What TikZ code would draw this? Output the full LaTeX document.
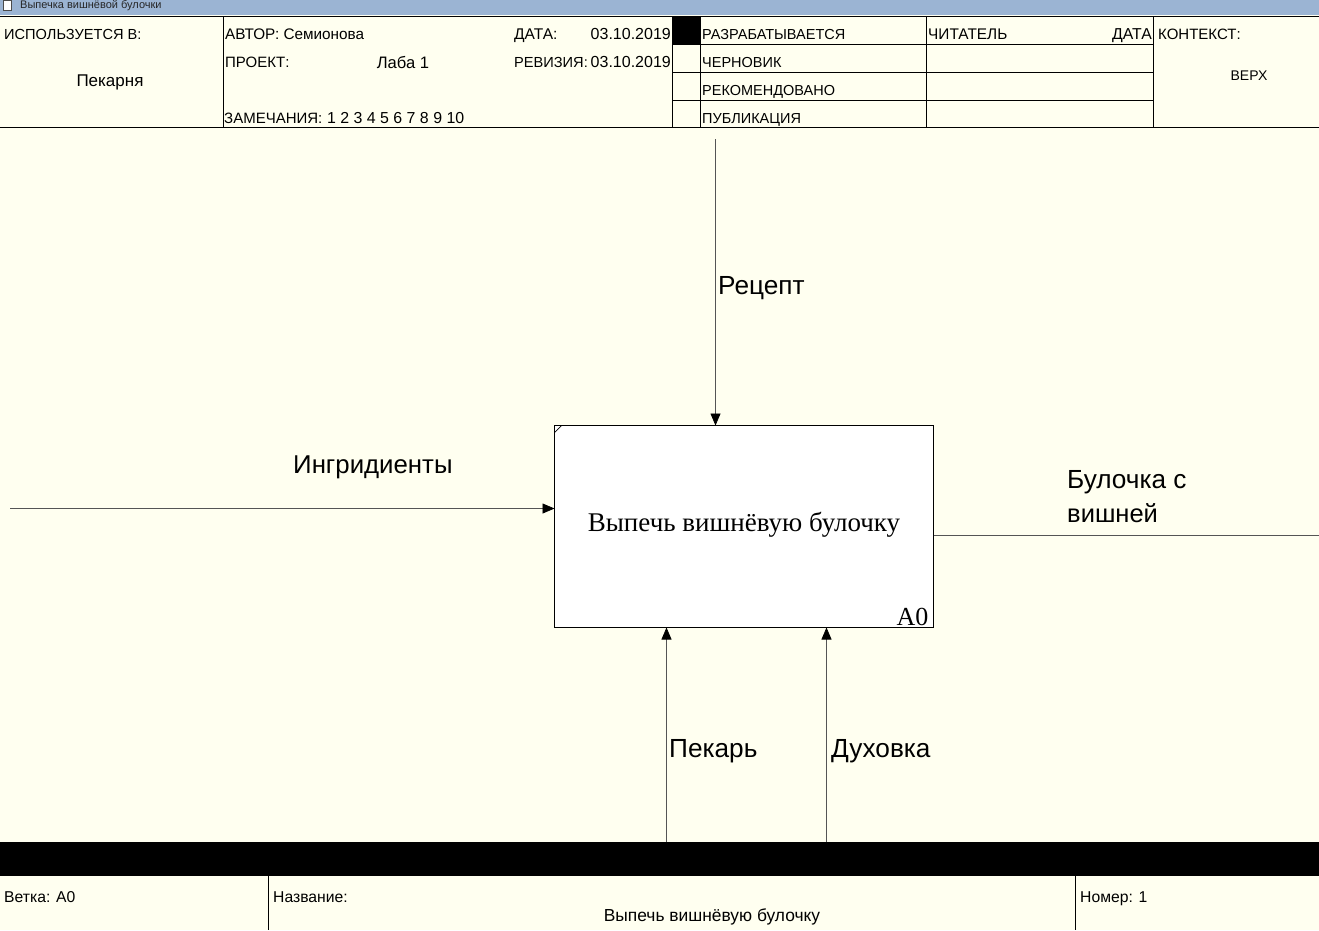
\documentclass[tikz,border=0pt]{standalone}
\usepackage{fontspec}
\setmainfont{Liberation Sans}
\newfontfamily\serifface{Liberation Serif}
\usetikzlibrary{arrows.meta}
\definecolor{paper}{HTML}{FFFFF0}
\definecolor{titlebar}{HTML}{9BB4D3}
\definecolor{wire}{HTML}{555555}
\newcommand{\fs}[1]{\fontsize{#1}{#1}\selectfont}
\tikzset{
  x=1pt,y=-1pt,
  rule/.style={draw=black,line width=0.9pt},
  head/.style={inner sep=0pt,anchor=base west,font=\fs{15}},
  status/.style={head,font=\fs{14.5}},
  foot/.style={head,font=\fs{15.7}},
  value/.style={inner sep=0pt,anchor=base,font=\fs{17}},
  flow/.style={inner sep=0pt,anchor=base west,font=\fs{26.2}},
  wireline/.style={draw=wire,line width=0.7pt},
  arrowline/.style={wireline,-{Triangle[length=12pt,width=10pt,color=black]}},
}
\begin{document}
\begin{tikzpicture}
\useasboundingbox (0,0) rectangle (1319,930);
\fill[paper] (0,0) rectangle (1319,930);
% title bar
\fill[titlebar] (0,0) rectangle (1319,15);
\draw[draw=black!70,fill=white,line width=0.5pt] (3.5,0) rectangle (11.5,10);
\node[inner sep=0pt,anchor=base west,font=\fs{11},text=black!85] (win) at (20,8) {Выпечка вишнёвой булочки};
% header frame
\draw[rule] (0,16) -- (1319,16);
\draw[rule] (0,127.5) -- (1319,127.5);
\foreach \xx in {223.5,672.5,700.5,926.5,1153.5} \draw[rule] (\xx,16) -- (\xx,127.5);
\foreach \yy in {44.5,72.5,100.5} {\draw[rule] (672.5,\yy) -- (1153.5,\yy);}
\fill[black] (672.5,16) rectangle (700.5,44.5);
% header text
\node[head,font=\fs{14.6}] (used) at (4,39.6) {ИСПОЛЬЗУЕТСЯ В:};
\node[value] (bakery) at (110,86.8) {Пекарня};
\node[head,font=\fs{15.3}] (author) at (225,39.6) {АВТОР: Семионова};
\node[head] (project) at (225,67.6) {ПРОЕКТ:};
\node[value,font=\fs{16.6}] (lab) at (403,68.8) {Лаба 1};
\node[head] (notes) at (224,123.6) {ЗАМЕЧАНИЯ:};
\node[head,font=\fs{15.9}] (notesnum) at (327,123.6) {1 2 3 4 5 6 7 8 9 10};
\node[head,font=\fs{15.5}] (date) at (514,39.6) {ДАТА:};
\node[head,anchor=base east,font=\fs{16}] (dateval) at (671,39.6) {03.10.2019};
\node[head,font=\fs{14.6}] (rev) at (514,67.6) {РЕВИЗИЯ:};
\node[head,anchor=base east,font=\fs{16}] (revval) at (671,67.6) {03.10.2019};
\node[status] (s1) at (702,39.6) {РАЗРАБАТЫВАЕТСЯ};
\node[status] (s2) at (702,67.6) {ЧЕРНОВИК};
\node[status] (s3) at (702,95.6) {РЕКОМЕНДОВАНО};
\node[status] (s4) at (702,123.6) {ПУБЛИКАЦИЯ};
\node[head,font=\fs{15.4}] (reader) at (928,39.6) {ЧИТАТЕЛЬ};
\node[head,anchor=base east,font=\fs{15.8}] (rdate) at (1152,39.6) {ДАТА};
\node[head] (context) at (1158,39.6) {КОНТЕКСТ:};
\node[head,anchor=base,font=\fs{14}] (top) at (1249,80.8) {ВЕРХ};
% activity box
\node[draw=black,fill=white,line width=0.9pt,outer sep=0pt,minimum width=379pt,minimum height=202pt,inner sep=0pt,anchor=north west] (box) at (554.5,425.5) {};
\draw[black,line width=0.7pt] (554.5,432.5) -- (561.5,425.5);
\node[inner sep=0pt,anchor=base,font=\serifface\fs{27}] (boxtext) at (744,531) {Выпечь вишнёвую булочку};
\node[inner sep=0pt,anchor=base east,font=\serifface\fs{26}] (a0) at (928.5,625.5) {A0};
% connectors
\coordinate (cIn) at (10,508.5);
\coordinate (cTop) at (715.5,139);
\coordinate (cOut) at (1319,535.5);
\coordinate (cM1) at (666.5,842);
\coordinate (cM2) at (826.5,842);
\draw[arrowline] (cIn) -- (cIn -| box.west);
\draw[arrowline] (cTop) -- (cTop |- box.north);
\draw[arrowline] (cM1) -- (cM1 |- box.south);
\draw[arrowline] (cM2) -- (cM2 |- box.south);
\draw[wireline] (cOut -| box.east) -- (cOut);
% labels
\node[flow] (l1) at (718,294) {Рецепт};
\node[flow,font=\fs{25.8}] (l2) at (293,473.6) {Ингридиенты};
\node[flow] (l3) at (1067,488) {Булочка с};
\node[flow,font=\fs{25.5}] (l4) at (1067,522) {вишней};
\node[flow] (l5) at (669,757) {Пекарь};
\node[flow] (l6) at (831,757) {Духовка};
% footer
\fill[black] (0,842) rectangle (1319,876);
\draw[rule] (268.5,876) -- (268.5,930);
\draw[rule] (1075.5,876) -- (1075.5,930);
\node[foot] (branch) at (4,902.7) {Ветка: A0};
\node[foot] (name) at (273,902.7) {Название:};
\node[value,font=\fs{17.4}] (nameval) at (712,921) {Выпечь вишнёвую булочку};
\node[foot] (number) at (1080,902.7) {Номер: 1};
\end{tikzpicture}
\end{document}
